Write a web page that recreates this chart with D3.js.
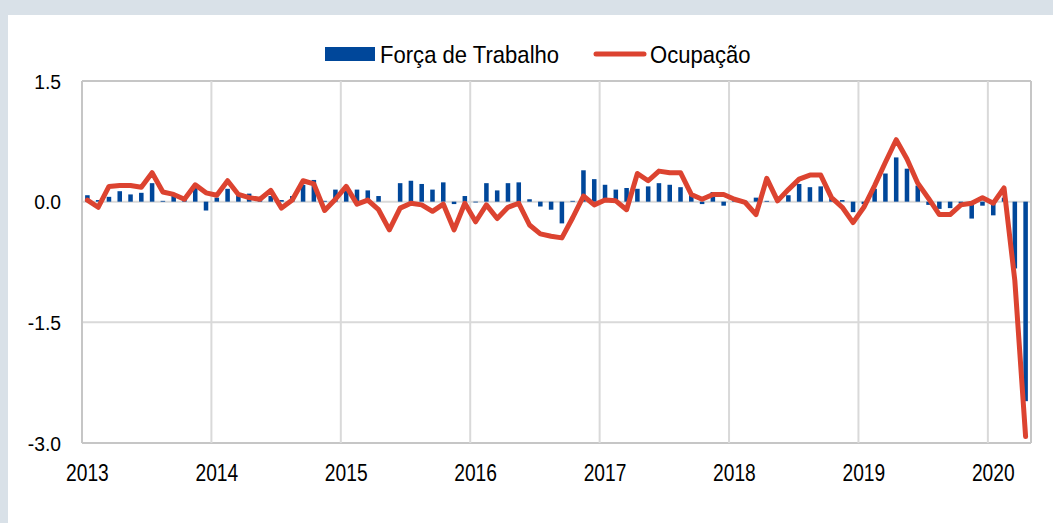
<!DOCTYPE html>
<html lang="pt">
    <head>
        <meta charset="utf-8">
        <title>Força de Trabalho e Ocupação</title>
        <script src="https://d3js.org/d3.v7.min.js"></script>

        <style type="text/css">
            body {
                margin: 0;
                background: #d9e1e8;
            }
            text {
                font-family: "Liberation Sans", Arial, sans-serif;
                fill: #000;
            }
        </style>
    </head>
    <body>
        <script type="text/javascript">

            // data (monthly, Jan 2013 - Apr 2020)
            var years = [2013, 2014, 2015, 2016, 2017, 2018, 2019, 2020];
            var monthsInYear = [12, 12, 12, 12, 12, 12, 12, 4];

            var forcaTrabalho = [
                0.08, 0.02, 0.06, 0.13, 0.09, 0.11, 0.23, 0.01, 0.07, 0.03, 0.17, -0.11,
                0.05, 0.16, 0.09, 0.10, 0.03, 0.07, 0.02, 0.07, 0.21, 0.27, 0.01, 0.15,
                0.16, 0.15, 0.14, 0.07, 0.00, 0.23, 0.26, 0.22, 0.15, 0.24, -0.03, 0.07,
                -0.01, 0.23, 0.14, 0.23, 0.24, 0.03, -0.06, -0.10, -0.27, 0.01, 0.39, 0.28,
                0.21, 0.15, 0.17, 0.16, 0.19, 0.23, 0.21, 0.18, 0.08, -0.03, 0.12, -0.05,
                0.02, 0.01, 0.05, 0.01, 0.02, 0.08, 0.22, 0.18, 0.19, 0.05, 0.02, -0.13,
                -0.03, 0.16, 0.35, 0.55, 0.41, 0.20, -0.04, -0.09, -0.08, -0.02, -0.21, -0.05,
                -0.17, 0.05, -0.83, -2.48
            ];

            var ocupacao = [
                0.02, -0.07, 0.19, 0.20, 0.20, 0.18, 0.36, 0.12, 0.09, 0.03, 0.21, 0.11,
                0.08, 0.26, 0.09, 0.05, 0.03, 0.14, -0.08, 0.02, 0.26, 0.22, -0.11, 0.03,
                0.19, -0.03, 0.02, -0.10, -0.35, -0.08, -0.02, -0.04, -0.12, -0.03, -0.35, -0.02,
                -0.25, -0.04, -0.21, -0.07, -0.02, -0.29, -0.40, -0.43, -0.45, -0.20, 0.07, -0.04,
                0.02, 0.01, -0.10, 0.35, 0.26, 0.38, 0.36, 0.36, 0.09, 0.03, 0.09, 0.09,
                0.03, -0.01, -0.16, 0.29, 0.01, 0.15, 0.28, 0.33, 0.33, 0.05, -0.07, -0.26,
                -0.07, 0.20, 0.49, 0.77, 0.53, 0.23, 0.04, -0.16, -0.16, -0.04, -0.02, 0.05,
                -0.02, 0.17, -0.98, -2.92
            ];

            var yTicks = [1.5, 0.0, -1.5, -3.0];
            var seriesNames = ["Força de Trabalho", "Ocupação"];

            // month keys like "2013-1"
            var months = [];
            years.forEach(function(y, i) {
                for (var m = 1; m <= monthsInYear[i]; m++) months.push(y + "-" + m);
            });

            var blue = "#00479a",
                red = "#dc4330",
                grid = "#d9d9d9",
                frame = "#c6c6c6";

            //set the scale of graph
            var svgWidth = 1053, svgHeight = 523;
            var margin = {top: 81, right: 22, bottom: 80, left: 82},
                width = svgWidth - margin.left - margin.right,
                height = svgHeight - margin.top - margin.bottom;

            // narrow text: place at (x,y) and squeeze horizontally
            function squeeze(x, y, sx) {
                return "translate(" + x + "," + y + ") scale(" + sx + ",1)";
            }

            var svg = d3.select("body").append("svg")
                .attr("width", svgWidth)
                .attr("height", svgHeight)
                .style("display", "block");

            // white panel inside the grey frame
            svg.append("rect")
                .attr("x", 8).attr("y", 15)
                .attr("width", svgWidth - 8).attr("height", svgHeight - 15)
                .attr("fill", "#fff");

            var g = svg.append("g")
                .attr("transform", "translate(" + margin.left + "," + margin.top + ")");

            // setup x
            var xScale = d3.scaleBand().domain(months).range([0, width]).paddingInner(0.58).paddingOuter(0.29);
            var xLine = function(i) { return xScale(months[i]) + xScale.bandwidth() / 2; };
            var step = xScale.step();

            // setup y
            var yScale = d3.scaleLinear().domain([-3, 1.5]).range([height, 0]);

            // horizontal grid lines
            g.selectAll(".hgrid")
                .data(yTicks)
                .enter().append("line")
                .attr("class", "hgrid")
                .attr("x1", 0).attr("x2", width)
                .attr("y1", function(d) { return yScale(d); })
                .attr("y2", function(d) { return yScale(d); })
                .attr("stroke", function(d) { return (d === 1.5 || d === -3) ? frame : grid; })
                .attr("stroke-width", 2);

            // vertical grid lines at year starts
            var yearStarts = months.filter(function(m) { return /-1$/.test(m); });
            g.selectAll(".vgrid")
                .data(yearStarts.slice(1))
                .enter().append("line")
                .attr("class", "vgrid")
                .attr("x1", function(d) { return xScale(d) - step * 0.29; })
                .attr("x2", function(d) { return xScale(d) - step * 0.29; })
                .attr("y1", 0).attr("y2", height)
                .attr("stroke", grid)
                .attr("stroke-width", 2);

            // left and right border
            [0, width].forEach(function(x) {
                g.append("line")
                    .attr("x1", x).attr("x2", x)
                    .attr("y1", 0).attr("y2", height)
                    .attr("stroke", frame)
                    .attr("stroke-width", 2);
            });

            // y tick labels
            g.selectAll(".ylab")
                .data(yTicks)
                .enter().append("text")
                .attr("class", "ylab")
                .attr("transform", function(d) { return squeeze(-21, yScale(d), 0.92); })
                .attr("dy", "0.36em")
                .style("text-anchor", "end")
                .style("font-size", "21px")
                .text(function(d) { return d.toFixed(1); });

            // x tick labels (years, centered on January)
            g.selectAll(".xlab")
                .data(yearStarts)
                .enter().append("text")
                .attr("class", "xlab")
                .attr("transform", function(d) {
                    return squeeze(xScale(d) + xScale.bandwidth() / 2, height + 38, 0.8);
                })
                .style("text-anchor", "middle")
                .style("font-size", "24px")
                .text(function(d) { return d.split("-")[0]; });

            // bars
            g.selectAll(".bar")
                .data(forcaTrabalho)
                .enter().append("rect")
                .attr("class", "bar")
                .attr("x", function(d, i) { return xScale(months[i]); })
                .attr("width", xScale.bandwidth())
                .attr("y", function(d) { return yScale(Math.max(0, d)); })
                .attr("height", function(d) { return Math.abs(yScale(d) - yScale(0)); })
                .attr("fill", blue);

            // line
            var line = d3.line()
                .x(function(d, i) { return xLine(i); })
                .y(function(d) { return yScale(d); });

            g.append("path")
                .datum(ocupacao)
                .attr("d", line)
                .attr("fill", "none")
                .attr("stroke", red)
                .attr("stroke-width", 5)
                .attr("stroke-linejoin", "round")
                .attr("stroke-linecap", "round");

            // legend
            var legend = svg.append("g");
            legend.append("rect")
                .attr("x", 325).attr("y", 47)
                .attr("width", 50).attr("height", 14)
                .attr("fill", blue);
            legend.append("text")
                .attr("transform", squeeze(380, 63, 0.92))
                .style("font-size", "24px")
                .text(seriesNames[0]);
            legend.append("line")
                .attr("x1", 596).attr("x2", 644)
                .attr("y1", 54).attr("y2", 54)
                .attr("stroke", red)
                .attr("stroke-width", 5)
                .attr("stroke-linecap", "round");
            legend.append("text")
                .attr("transform", squeeze(650, 63, 0.92))
                .style("font-size", "24px")
                .text(seriesNames[1]);
        </script>
    </body>
</html>
